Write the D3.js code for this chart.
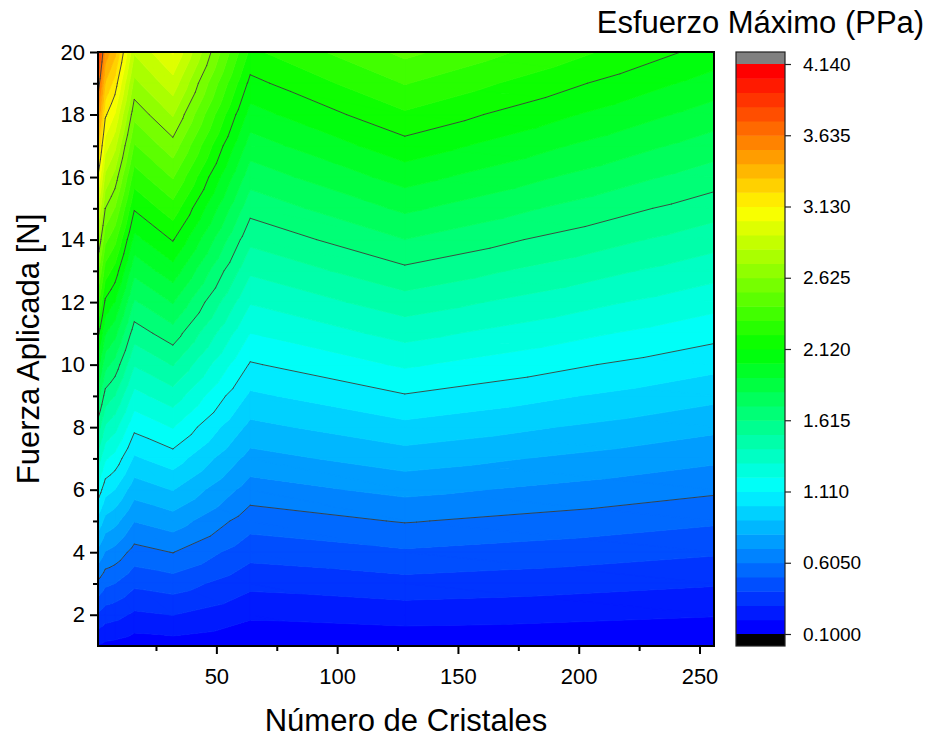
<!DOCTYPE html>
<html>
<head>
<meta charset="utf-8">
<script src="https://cdn.jsdelivr.net/npm/d3@7"></script>
<style>
  html, body { margin: 0; padding: 0; background: #fff; }
  svg { display: block; }
  text { font-family: "Liberation Sans", Arial, Helvetica, sans-serif; fill: #000; }
</style>
</head>
<body>
<svg id="chart" width="926" height="740"></svg>
<script>
// Sample grid: number of crystals (columns) and applied force in N (rows)
const crystals = [1, 2, 4, 8, 16, 32, 64, 128, 256];
const forces = [1, 2, 3, 4, 5, 6, 7, 8, 9, 10, 11, 12, 13, 14, 15, 16, 17, 18, 19, 20];

// Maximum stress (PPa) for each crystal count, one value per force in `forces`
const stress1   = [0.195, 0.390, 0.585, 0.780, 0.975, 1.170, 1.365, 1.560, 1.755, 1.950, 2.145, 2.340, 2.535, 2.730, 2.925, 3.120, 3.315, 3.510, 3.705, 3.900];
const stress2   = [0.189, 0.378, 0.567, 0.756, 0.945, 1.134, 1.323, 1.512, 1.701, 1.890, 2.079, 2.268, 2.457, 2.646, 2.835, 3.024, 3.213, 3.402, 3.591, 3.780];
const stress4   = [0.175, 0.350, 0.525, 0.700, 0.875, 1.050, 1.225, 1.400, 1.575, 1.750, 1.925, 2.100, 2.275, 2.450, 2.626, 2.800, 2.975, 3.150, 3.325, 3.500];
const stress8   = [0.168, 0.336, 0.504, 0.672, 0.840, 1.008, 1.176, 1.344, 1.512, 1.680, 1.848, 2.016, 2.184, 2.352, 2.520, 2.688, 2.856, 3.024, 3.192, 3.360];
const stress16  = [0.142, 0.284, 0.426, 0.568, 0.710, 0.852, 0.994, 1.136, 1.278, 1.420, 1.562, 1.704, 1.846, 1.988, 2.130, 2.272, 2.414, 2.556, 2.698, 2.840];
const stress32  = [0.152, 0.304, 0.456, 0.608, 0.760, 0.912, 1.064, 1.216, 1.368, 1.520, 1.672, 1.824, 1.976, 2.128, 2.280, 2.432, 2.584, 2.736, 2.888, 3.040];
const stress64  = [0.110, 0.220, 0.330, 0.440, 0.550, 0.660, 0.770, 0.880, 0.990, 1.100, 1.210, 1.320, 1.430, 1.540, 1.650, 1.760, 1.870, 1.980, 2.090, 2.200];
const stress128 = [0.1225, 0.245, 0.3675, 0.490, 0.6125, 0.735, 0.8575, 0.980, 1.1025, 1.225, 1.3475, 1.470, 1.5925, 1.715, 1.8375, 1.960, 2.0825, 2.205, 2.3275, 2.450];
const stress256 = [0.104, 0.208, 0.312, 0.416, 0.520, 0.624, 0.728, 0.832, 0.936, 1.040, 1.144, 1.248, 1.352, 1.456, 1.560, 1.664, 1.768, 1.872, 1.976, 2.080];
const stressColumns = [stress1, stress2, stress4, stress8, stress16, stress32, stress64, stress128, stress256];

// Axis ticks
const xTicksMajor = [50, 100, 150, 200, 250];
const xTicksMinor = [25, 75, 125, 175, 225];
const yTicksMajor = [2, 4, 6, 8, 10, 12, 14, 16, 18, 20];
const yTicksMinor = [3, 5, 7, 9, 11, 13, 15, 17, 19];

// Contour levels: 40 equal bands between the limits, lines every fifth boundary
const levelMin = 0.1;
const levelMax = 4.14;
const levelCount = 40;
const lineLevels = [0.605, 1.11, 1.615, 2.12, 2.625, 3.13, 3.635];
const cbarTickValues = [0.1, 0.605, 1.11, 1.615, 2.12, 2.625, 3.13, 3.635, 4.14];
const cbarTickLabels = ["0.1000", "0.6050", "1.110", "1.615", "2.120", "2.625", "3.130", "3.635", "4.140"];
const paletteStops = ["#0000ff", "#00ffff", "#00ff00", "#ffff00", "#ff0000"];
const belowColor = "#000000";
const aboveColor = "#808080";

const svg = d3.select("#chart");
const plot = { left: 98, right: 714, top: 52, bottom: 646 };

const x = d3.scaleLinear().domain([1, 256]).range([plot.left, plot.right]);
const y = d3.scaleLinear().domain([1, 20]).range([plot.bottom, plot.top]);

const step = (levelMax - levelMin) / levelCount;
const palette = d3.scaleLinear()
  .domain(paletteStops.map((_, i) => i / (paletteStops.length - 1)))
  .range(paletteStops)
  .interpolate(d3.interpolateRgb);
const bandColor = i => i < 0 ? belowColor : i >= levelCount ? aboveColor : palette(i / (levelCount - 1));

// Split each grid cell into two triangles with linear interpolation inside
const triangles = [];
for (let i = 0; i < crystals.length - 1; i++) {
  for (let j = 0; j < forces.length - 1; j++) {
    const p = (a, b) => ({ x: crystals[a], y: forces[b], z: stressColumns[a][b] });
    triangles.push([p(i, j), p(i + 1, j), p(i, j + 1)]);
    triangles.push([p(i + 1, j), p(i + 1, j + 1), p(i, j + 1)]);
  }
}

function clipPoly(poly, c, keepAbove) {
  const inside = pt => keepAbove ? pt.z >= c : pt.z <= c;
  const out = [];
  for (let k = 0; k < poly.length; k++) {
    const a = poly[k], b = poly[(k + 1) % poly.length];
    const ia = inside(a), ib = inside(b);
    if (ia) out.push(a);
    if (ia !== ib) {
      const t = (c - a.z) / (b.z - a.z);
      out.push({ x: a.x + t * (b.x - a.x), y: a.y + t * (b.y - a.y), z: c });
    }
  }
  return out;
}

const toPath = poly => "M" + poly.map(pt => x(pt.x).toFixed(2) + "," + y(pt.y).toFixed(2)).join("L") + "Z";

// Filled bands (including out-of-range bands)
const bands = [];
for (let i = -1; i <= levelCount; i++) {
  const lo = i < 0 ? -Infinity : levelMin + i * step;
  const hi = i >= levelCount ? Infinity : levelMin + (i + 1) * step;
  let d = "";
  triangles.forEach(tri => {
    const zs = tri.map(t => t.z);
    if (d3.max(zs) < lo || d3.min(zs) > hi) return;
    let poly = tri;
    if (isFinite(lo)) poly = clipPoly(poly, lo, true);
    if (poly.length >= 3 && isFinite(hi)) poly = clipPoly(poly, hi, false);
    if (poly.length >= 3) d += toPath(poly);
  });
  if (d) bands.push({ i, d });
}

svg.append("defs").append("clipPath").attr("id", "plot-clip")
  .append("rect")
  .attr("x", plot.left).attr("y", plot.top)
  .attr("width", plot.right - plot.left).attr("height", plot.bottom - plot.top);

const fieldG = svg.append("g").attr("clip-path", "url(#plot-clip)");
fieldG.selectAll("path.band")
  .data(bands)
  .join("path")
  .attr("class", "band")
  .attr("d", b => b.d)
  .attr("fill", b => bandColor(b.i))
  .attr("stroke", b => bandColor(b.i))
  .attr("stroke-width", 0.8)
  .attr("stroke-linejoin", "round");

// Contour lines
function crossing(tri, c) {
  const pts = [];
  for (let k = 0; k < 3; k++) {
    const a = tri[k], b = tri[(k + 1) % 3];
    if ((a.z >= c) !== (b.z >= c)) {
      const t = (c - a.z) / (b.z - a.z);
      pts.push({ x: a.x + t * (b.x - a.x), y: a.y + t * (b.y - a.y) });
    }
  }
  return pts.length === 2 ? pts : null;
}
let linePath = "";
lineLevels.forEach(c => {
  triangles.forEach(tri => {
    const seg = crossing(tri, c);
    if (seg) linePath += "M" + x(seg[0].x).toFixed(2) + "," + y(seg[0].y).toFixed(2) +
      "L" + x(seg[1].x).toFixed(2) + "," + y(seg[1].y).toFixed(2);
  });
});
fieldG.append("path")
  .attr("d", linePath)
  .attr("fill", "none")
  .attr("stroke", "#3c3c3c")
  .attr("stroke-width", 0.9)
  .attr("stroke-linecap", "round");

// Frame
svg.append("rect")
  .attr("x", plot.left).attr("y", plot.top)
  .attr("width", plot.right - plot.left).attr("height", plot.bottom - plot.top)
  .attr("fill", "none").attr("stroke", "#000").attr("stroke-width", 2);

// Axes
function styleAxis(g) {
  g.select(".domain").remove();
  g.selectAll(".tick line").attr("stroke", "#000").attr("stroke-width", 2);
  g.selectAll(".tick text").attr("font-size", 22).attr("font-family", '"Liberation Sans", Arial, sans-serif');
}
svg.append("g").attr("transform", `translate(0,${plot.bottom})`)
  .call(d3.axisBottom(x).tickValues(xTicksMajor).tickSize(8).tickPadding(14).tickFormat(d3.format("d")))
  .call(styleAxis);
svg.append("g").attr("transform", `translate(0,${plot.bottom})`)
  .call(d3.axisBottom(x).tickValues(xTicksMinor).tickSize(5).tickFormat(""))
  .call(styleAxis);
svg.append("g").attr("transform", `translate(${plot.left},0)`)
  .call(d3.axisLeft(y).tickValues(yTicksMajor).tickSize(8).tickPadding(5).tickFormat(d3.format("d")))
  .call(styleAxis);
svg.append("g").attr("transform", `translate(${plot.left},0)`)
  .call(d3.axisLeft(y).tickValues(yTicksMinor).tickSize(5).tickFormat(""))
  .call(styleAxis);

// Axis titles
svg.append("text")
  .attr("x", (plot.left + plot.right) / 2).attr("y", 731)
  .attr("text-anchor", "middle").attr("font-size", 31)
  .text("Número de Cristales");
svg.append("text")
  .attr("transform", `translate(39,${(plot.top + plot.bottom) / 2}) rotate(-90)`)
  .attr("text-anchor", "middle").attr("font-size", 31)
  .text("Fuerza Aplicada [N]");

// Colour bar
const cbar = { left: 736, right: 785, top: 64, bottom: 634, cap: 12 };
const cy = d3.scaleLinear().domain([levelMin, levelMax]).range([cbar.bottom, cbar.top]);
const cbarG = svg.append("g");
cbarG.selectAll("rect.cb")
  .data(d3.range(levelCount))
  .join("rect")
  .attr("class", "cb")
  .attr("x", cbar.left)
  .attr("y", i => cy(levelMin + (i + 1) * step))
  .attr("width", cbar.right - cbar.left)
  .attr("height", i => cy(levelMin + i * step) - cy(levelMin + (i + 1) * step) + 0.5)
  .attr("fill", i => bandColor(i));
cbarG.append("rect")
  .attr("x", cbar.left).attr("y", cbar.top - cbar.cap)
  .attr("width", cbar.right - cbar.left).attr("height", cbar.cap)
  .attr("fill", aboveColor);
cbarG.append("rect")
  .attr("x", cbar.left).attr("y", cbar.bottom)
  .attr("width", cbar.right - cbar.left).attr("height", cbar.cap)
  .attr("fill", belowColor);
cbarG.append("rect")
  .attr("x", cbar.left).attr("y", cbar.top - cbar.cap)
  .attr("width", cbar.right - cbar.left).attr("height", cbar.bottom - cbar.top + 2 * cbar.cap)
  .attr("fill", "none").attr("stroke", "#222").attr("stroke-width", 1.2);

const cbarAxis = svg.append("g").attr("transform", `translate(${cbar.right},0)`)
  .call(d3.axisRight(cy).tickValues(cbarTickValues).tickSize(6).tickPadding(12)
    .tickFormat((d, i) => cbarTickLabels[i]));
cbarAxis.select(".domain").remove();
cbarAxis.selectAll(".tick line").attr("stroke", "#222").attr("stroke-width", 1.2);
cbarAxis.selectAll(".tick text").attr("font-size", 19).attr("font-family", '"Liberation Sans", Arial, sans-serif');

svg.append("text")
  .attr("x", (cbar.left + cbar.right) / 2).attr("y", 33)
  .attr("text-anchor", "middle").attr("font-size", 31)
  .text("Esfuerzo Máximo (PPa)");
</script>
</body>
</html>
